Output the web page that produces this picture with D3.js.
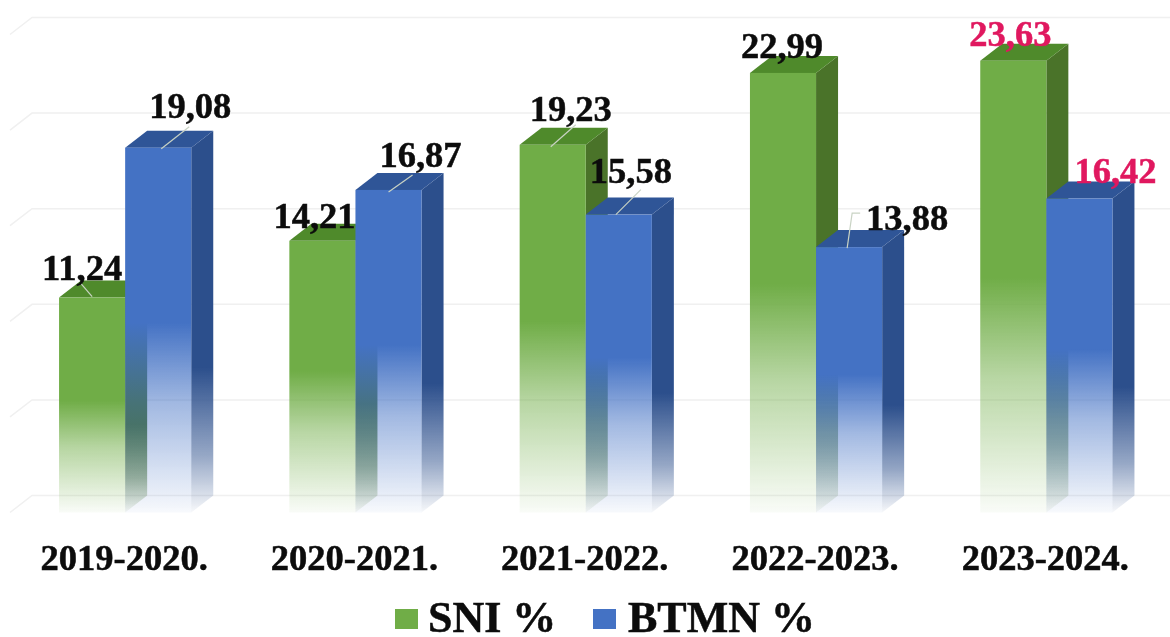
<!DOCTYPE html>
<html>

<head>
    <meta charset="utf-8">
    <style>
        body {
            margin: 0;
            background: #fff;
        }

        svg {
            display: block;
            font-family: 'Liberation Serif', 'Times New Roman', serif;
            font-weight: bold;
            /* the source picture is a soft scan */
            filter: blur(0.55px);
        }

        text {
            stroke: currentColor;
            stroke-width: 0.5px;
        }
    </style>
</head>

<body>
    <svg width="1170" height="637"></svg>

    <script src="https://d3js.org/d3.v7.min.js"></script>
    <script>
        const categories = ["2019-2020.", "2020-2021.", "2021-2022.", "2022-2023.", "2023-2024."];
        const seriesNames = ["SNI %", "BTMN %"];
        const sniValues = [11.24, 14.21, 19.23, 22.99, 23.63];
        const btmnValues = [19.08, 16.87, 15.58, 13.88, 16.42];
        const gridTicks = [0, 5, 10, 15, 20, 25];
        const highlightCategory = "2023-2024.";

        let width = 1170;
        let depthX = 22; // fake 3d depth
        let depthY = 17;

        let svg = d3.select("svg");

        let x = d3.scaleBand()
            .domain(categories)
            .range([10, 1161.5]);

        let xInner = d3.scaleBand()
            .domain(seriesNames)
            .range([0, x.bandwidth()])
            .paddingInner(0)
            .paddingOuter(0.742);

        let y = d3.scaleLinear()
            .domain([0, 25])
            .range([512.5, 34.5]);

        let colors = d3.scaleOrdinal()
            .domain(seriesNames)
            .range(["#70ad47", "#4472c4"]);

        let sideColors = d3.scaleOrdinal()
            .domain(seriesNames)
            .range(["#4a7329", "#2c4f8c"]);

        let topColors = d3.scaleOrdinal()
            .domain(seriesNames)
            .range(["#4f8a2b", "#2f5597"]);

        // gradients fade each face out towards the floor
        let defs = svg.append("defs");

        function fade(id, color, start, middle) {
            let g = defs.append("linearGradient")
                .attr("id", id)
                .attr("x1", 0).attr("x2", 0)
                .attr("y1", 0).attr("y2", 1);
            g.append("stop").attr("offset", start).attr("stop-color", color).attr("stop-opacity", 1);
            g.append("stop").attr("offset", middle).attr("stop-color", color).attr("stop-opacity", 0.5);
            g.append("stop").attr("offset", 1).attr("stop-color", color).attr("stop-opacity", 0.04);
        }

        seriesNames.forEach((s, i) => {
            fade("front" + i, colors(s), 0.48, 0.7);
            fade("side" + i, sideColors(s), 0.62, 0.85);
        });

        // back wall gridlines with the little diagonal at the left
        let grid = svg.append("g")
            .attr("fill", "none")
            .attr("stroke", "#f0f0f0")
            .attr("stroke-width", 1.5);

        grid.selectAll("path")
            .data(gridTicks)
            .join("path")
            .attr("d", d => {
                let p = d3.path();
                p.moveTo(x.range()[0], y(d));
                p.lineTo(x.range()[0] + depthX, y(d) - depthY);
                p.lineTo(width, y(d) - depthY);
                return p.toString();
            });

        let rows = [];
        categories.forEach((c, i) => {
            rows.push({ category: c, series: 0, name: seriesNames[0], value: sniValues[i] });
            rows.push({ category: c, series: 1, name: seriesNames[1], value: btmnValues[i] });
        });

        let barX = d => x(d.category) + xInner(d.name);
        let w = xInner.bandwidth();

        let bars = svg.append("g")
            .selectAll("g")
            .data(rows)
            .join("g");

        // side
        bars.append("path")
            .attr("fill", d => "url(#side" + d.series + ")")
            .attr("d", d => {
                let x1 = barX(d) + w;
                return "M" + x1 + "," + y(d.value)
                    + "L" + (x1 + depthX) + "," + (y(d.value) - depthY)
                    + "L" + (x1 + depthX) + "," + (y(0) - depthY)
                    + "L" + x1 + "," + y(0) + "Z";
            });

        // top
        bars.append("path")
            .attr("fill", d => topColors(d.name))
            .attr("d", d => {
                let x0 = barX(d);
                return "M" + x0 + "," + y(d.value)
                    + "L" + (x0 + depthX) + "," + (y(d.value) - depthY)
                    + "L" + (x0 + w + depthX) + "," + (y(d.value) - depthY)
                    + "L" + (x0 + w) + "," + y(d.value) + "Z";
            });

        // front
        bars.append("rect")
            .attr("x", barX)
            .attr("y", d => y(d.value))
            .attr("width", w)
            .attr("height", d => y(0) - y(d.value))
            .attr("fill", d => "url(#front" + d.series + ")");

        // label offsets from the top-right corner of each bar's front, [dx, dy]
        let labelOffsets = {
            "2019-2020.|0": [-43, -18], "2019-2020.|1": [-1, -30],
            "2020-2021.|0": [-41, -13], "2020-2021.|1": [-1, -23],
            "2021-2022.|0": [-15, -24], "2021-2022.|1": [-21, -32],
            "2022-2023.|0": [-34, -15], "2022-2023.|1": [25, -17],
            "2023-2024.|0": [-36, -15], "2023-2024.|1": [3, -16]
        };

        // leader lines, only where the label sits away from the bar
        let leaders = {
            "2019-2020.|0": [[-33, -1], [-45, -15]],
            "2019-2020.|1": [[-30, 1], [-2, -21]],
            "2020-2021.|1": [[-33, 2], [-9, -15]],
            "2021-2022.|0": [[-35, 2], [-10, -20]],
            "2021-2022.|1": [[-36, 0], [-11, -25]],
            "2022-2023.|1": [[-35, 1], [-30, -34], [-22, -34]]
        };

        bars.filter(d => leaders[d.category + "|" + d.series])
            .append("path")
            .attr("fill", "none")
            .attr("stroke", "#c9d3c4")
            .attr("stroke-width", 1.2)
            .attr("d", d => d3.line()(leaders[d.category + "|" + d.series]
                .map(p => [barX(d) + w + p[0], y(d.value) + p[1]])));

        // value labels go on top of everything
        svg.append("g")
            .selectAll("text")
            .data(rows)
            .join("text")
            .attr("x", d => barX(d) + w + labelOffsets[d.category + "|" + d.series][0])
            .attr("y", d => y(d.value) + labelOffsets[d.category + "|" + d.series][1])
            .attr("text-anchor", "middle")
            .style("font-size", "36.5px")
            .style("color", d => d.category === highlightCategory ? "#e0185f" : "#0c0c0c")
            .style("fill", "currentColor")
            .text(d => d3.format(".2f")(d.value).replace(".", ","));

        // category axis
        let xAxis = d3.axisBottom(x).tickSize(0);
        let axisG = svg.append("g")
            .attr("transform", "translate(0,535)")
            .call(xAxis);
        axisG.select(".domain").remove();
        axisG.selectAll("text")
            .attr("dy", 0)
            .attr("dx", -1)
            .attr("y", 35)
            .style("font-family", "'Liberation Serif', serif")
            .style("font-weight", "bold")
            .style("font-size", "36.5px")
            .style("color", "#0c0c0c")
            .style("fill", "currentColor");

        // legend
        let legendX = d3.scaleOrdinal().domain(seriesNames).range([395, 593]);

        let legend = svg.append("g")
            .selectAll("g")
            .data(seriesNames)
            .join("g")
            .attr("transform", d => "translate(" + legendX(d) + ",609)");

        legend.append("rect")
            .attr("width", 23)
            .attr("height", 20)
            .attr("fill", d => colors(d));

        legend.append("text")
            .attr("x", d => d === seriesNames[0] ? 33 : 35)
            .attr("y", 23)
            .style("font-size", "44px")
            .style("color", "#0c0c0c")
            .style("fill", "currentColor")
            .text(d => d);
    </script>
</body>

</html>
